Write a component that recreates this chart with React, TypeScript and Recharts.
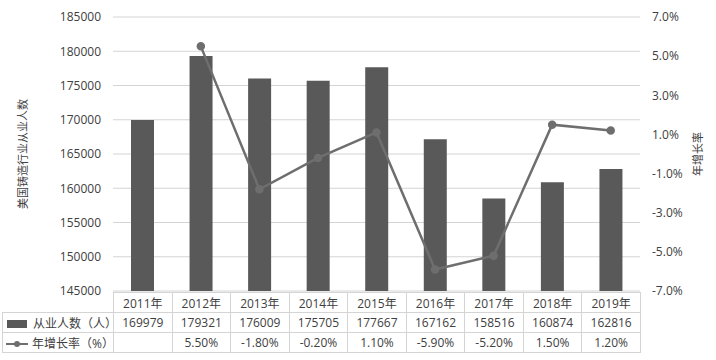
import React from 'react';
import { ComposedChart, Bar, Line, XAxis, YAxis, CartesianGrid } from 'recharts';

const years = ['2011年', '2012年', '2013年', '2014年', '2015年', '2016年', '2017年', '2018年', '2019年'];
const employees = [169979, 179321, 176009, 175705, 177667, 167162, 158516, 160874, 162816];
const growth: (number | null)[] = [null, 5.5, -1.8, -0.2, 1.1, -5.9, -5.2, 1.5, 1.2];
const leftTicks = [145000, 150000, 155000, 160000, 165000, 170000, 175000, 180000, 185000];
const rightTicks = [-7, -5, -3, -1, 1, 3, 5, 7];

const data = years.map((year, i) => ({ year, employees: employees[i], growth: growth[i] }));

const FONT = "'Open Sans', 'Noto Sans CJK SC', sans-serif";
const TEXT = '#404040';
const BAR = '#595959';
const LINE = '#6e6e6e';
const BORDER = '#d4d4d4';

const LeftTitle = (props: any) => {
  const vb = props.viewBox;
  const cy = vb.y + vb.height / 2;
  return (
    <text x={22} y={cy} transform={`rotate(-90, 22, ${cy})`} textAnchor="middle" dominantBaseline="central"
      fontSize={11} fill={TEXT} fontFamily={FONT}>美国铸造行业从业人数</text>
  );
};

const RightTitle = (props: any) => {
  const vb = props.viewBox;
  const cy = vb.y + vb.height / 2;
  const cx = vb.x + 57;
  return (
    <text x={cx} y={cy} transform={`rotate(-90, ${cx}, ${cy})`} textAnchor="middle" dominantBaseline="central"
      fontSize={11} fill={TEXT} fontFamily={FONT}>年增长率</text>
  );
};

const cell: React.CSSProperties = {
  border: `1px solid ${BORDER}`,
  textAlign: 'center',
  height: 19,
  padding: 0,
  width: 58.5,
};

export default function App() {
  return (
    <div style={{ position: 'absolute', left: 0, top: 0, width: 716, height: 360, background: '#fff', fontFamily: FONT }}>
      <ComposedChart width={716} height={300} data={data} margin={{ top: 17, right: 0, bottom: 9, left: 0 }}>
        <CartesianGrid yAxisId="left" vertical={false} stroke={BORDER} />
        <XAxis dataKey="year" hide />
        <YAxis
          yAxisId="left"
          width={113}
          domain={[145000, 185000]}
          ticks={leftTicks}
          axisLine={false}
          tickLine={false}
          tickMargin={6}
          tick={{ fontSize: 12, fill: TEXT, fontFamily: FONT }}
          label={LeftTitle}
        />
        <YAxis
          yAxisId="right"
          orientation="right"
          width={76}
          domain={[-7, 7]}
          ticks={rightTicks}
          axisLine={false}
          tickLine={false}
          tickMargin={6}
          tickFormatter={(v: number) => `${v.toFixed(1)}%`}
          tick={{ fontSize: 12, fill: TEXT, fontFamily: FONT }}
          label={RightTitle}
        />
        <Bar yAxisId="left" dataKey="employees" fill={BAR} barSize={23} isAnimationActive={false} />
        <Line
          yAxisId="right"
          dataKey="growth"
          stroke={LINE}
          strokeWidth={2.5}
          dot={{ r: 3, fill: LINE, stroke: LINE }}
          connectNulls={false}
          isAnimationActive={false}
        />
      </ComposedChart>
      <table
        style={{
          position: 'absolute',
          left: 2,
          top: 292,
          borderCollapse: 'collapse',
          fontSize: 12,
          color: TEXT,
          tableLayout: 'fixed',
          width: 638,
        }}
      >
        <colgroup>
          <col style={{ width: 111 }} />
          {years.map((y) => (
            <col key={y} style={{ width: 58.55 }} />
          ))}
        </colgroup>
        <tbody>
          <tr>
            <td style={{ ...cell, border: 'none', borderRight: `1px solid ${BORDER}` }} />
            {years.map((y) => (
              <td key={y} style={cell}>{y}</td>
            ))}
          </tr>
          <tr>
            <td style={{ ...cell, textAlign: 'left', whiteSpace: 'nowrap' }}>
              <span style={{ display: 'inline-block', width: 20, height: 8, background: BAR, margin: '0 6px 0 4px', verticalAlign: 'middle' }} />
              从业人数（人）
            </td>
            {employees.map((v, i) => (
              <td key={i} style={cell}>{v}</td>
            ))}
          </tr>
          <tr>
            <td style={{ ...cell, textAlign: 'left', whiteSpace: 'nowrap' }}>
              <svg width={22} height={8} style={{ margin: '0 4px 0 3px', verticalAlign: 'middle' }}>
                <line x1={0} y1={4} x2={22} y2={4} stroke={LINE} strokeWidth={2} />
                <circle cx={11} cy={4} r={3} fill={LINE} />
              </svg>
              年增长率（%）
            </td>
            {growth.map((v, i) => (
              <td key={i} style={cell}>{v === null ? '' : `${v.toFixed(2)}%`}</td>
            ))}
          </tr>
        </tbody>
      </table>
    </div>
  );
}
